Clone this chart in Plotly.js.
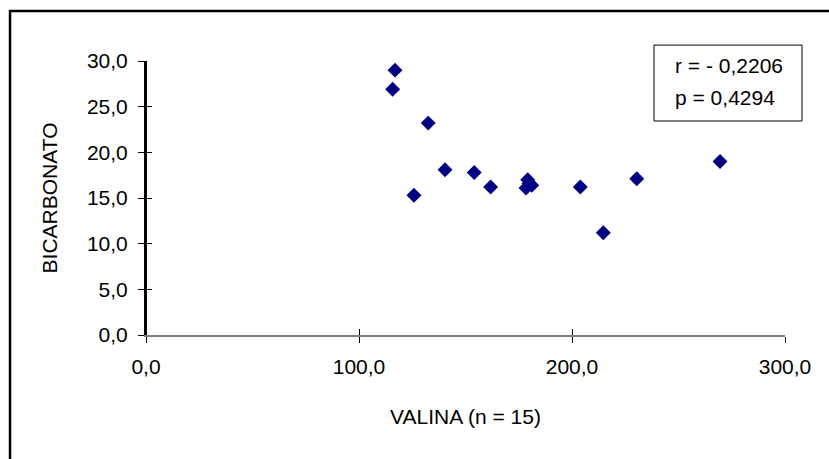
<!DOCTYPE html>
<html>
<head>
<meta charset="utf-8">
<script src="https://cdn.plot.ly/plotly-3.0.1.min.js"></script>
<style>
html,body{margin:0;padding:0;background:#fff;}
#chart{width:829px;height:459px;}
</style>
</head>
<body>
<div id="chart"></div>
<script>
// Data
const valina = [116.9, 115.8, 125.8, 132.5, 140.4, 154.1, 161.8, 179.2, 178.4, 181.1, 179.8, 203.9, 214.7, 230.4, 269.5];
const bicarbonato = [29.0, 26.9, 15.3, 23.2, 18.1, 17.8, 16.2, 17.0, 16.1, 16.4, 16.6, 16.2, 11.2, 17.1, 19.0];
const xTicks = [0, 100, 200, 300];
const yTicks = [0, 5, 10, 15, 20, 25, 30];
const xTitle = 'VALINA (n = 15)';
const yTitle = 'BICARBONATO';
const statsLines = ['r = - 0,2206', 'p = 0,4294'];

const FONT = 'Liberation Sans, Arial, sans-serif';
const FS = 21;

const traces = [{
  type: 'scatter',
  mode: 'markers',
  x: valina,
  y: bicarbonato,
  marker: {symbol: 'diamond', size: 11.5, color: '#000080', line: {width: 0}},
  hoverinfo: 'x+y',
  showlegend: false
}, {
  // helper trace so the overlay axes (inside half of the cross ticks) are drawn
  type: 'scatter',
  mode: 'markers',
  x: valina,
  y: bicarbonato,
  xaxis: 'x2',
  yaxis: 'y2',
  marker: {opacity: 0},
  hoverinfo: 'skip',
  showlegend: false
}];

const layout = {
  width: 829,
  height: 459,
  margin: {l: 146, r: 44, t: 61, b: 124},
  paper_bgcolor: '#ffffff',
  plot_bgcolor: '#ffffff',
  separators: ',.',
  font: {family: FONT, size: FS, color: '#000000'},
  xaxis: {
    range: [0, 300],
    tickvals: xTicks,
    tickformat: '.1f',
    ticks: 'outside',
    ticklen: 6,
    tickwidth: 1,
    tickcolor: '#000000',
    showline: true,
    linecolor: '#808080',
    linewidth: 2,
    showgrid: false,
    zeroline: false,
    ticklabelstandoff: 6,
    tickfont: {family: FONT, size: FS, color: '#000000'},
    title: {text: xTitle, font: {family: FONT, size: FS, color: '#000000'}, standoff: 32}
  },
  yaxis: {
    range: [0, 30],
    tickvals: yTicks,
    tickformat: '.1f',
    ticks: 'outside',
    ticklen: 6,
    tickwidth: 1,
    tickcolor: '#000000',
    showline: true,
    linecolor: '#000000',
    linewidth: 2,
    showgrid: false,
    zeroline: false,
    ticklabelstandoff: 6,
    tickfont: {family: FONT, size: FS, color: '#000000'},
    title: {text: yTitle, font: {family: FONT, size: FS, color: '#000000'}, standoff: 24}
  },
  xaxis2: {
    overlaying: 'x', anchor: 'y2', range: [0, 300], tickvals: xTicks,
    ticks: 'inside', ticklen: 6, tickwidth: 1, tickcolor: '#000000',
    showticklabels: false, showline: false, showgrid: false, zeroline: false
  },
  yaxis2: {
    overlaying: 'y', anchor: 'x2', side: 'left', range: [0, 30], tickvals: yTicks,
    ticks: 'inside', ticklen: 6, tickwidth: 1, tickcolor: '#000000',
    showticklabels: false, showline: false, showgrid: false, zeroline: false
  },
  annotations: [{
    xref: 'paper', yref: 'paper',
    x: 0.8247, y: 0.985,
    xanchor: 'left', yanchor: 'middle',
    text: statsLines[0],
    showarrow: false,
    font: {family: FONT, size: FS, color: '#000000'}
  }, {
    xref: 'paper', yref: 'paper',
    x: 0.8247, y: 0.865,
    xanchor: 'left', yanchor: 'middle',
    text: statsLines[1],
    showarrow: false,
    font: {family: FONT, size: FS, color: '#000000'}
  }],
  shapes: [{
    type: 'rect', xref: 'paper', yref: 'paper',
    x0: -0.2128, x1: 1.3, y0: -0.6, y1: 1.1825,
    line: {color: '#000000', width: 2.5},
    fillcolor: 'rgba(0,0,0,0)',
    layer: 'below'
  }, {
    // y axis line
    type: 'line', xref: 'paper', yref: 'paper',
    x0: 0, x1: 0, y0: 0, y1: 1,
    line: {color: '#000000', width: 2},
    layer: 'above'
  }, {
    type: 'rect', xref: 'paper', yref: 'paper',
    x0: 0.795, x1: 1.0266, y0: 0.781, y1: 1.058,
    line: {color: '#000000', width: 1},
    fillcolor: 'rgba(0,0,0,0)',
    layer: 'above'
  }]
};

Plotly.newPlot('chart', traces, layout, {displayModeBar: false, staticPlot: true});
</script>
</body>
</html>
